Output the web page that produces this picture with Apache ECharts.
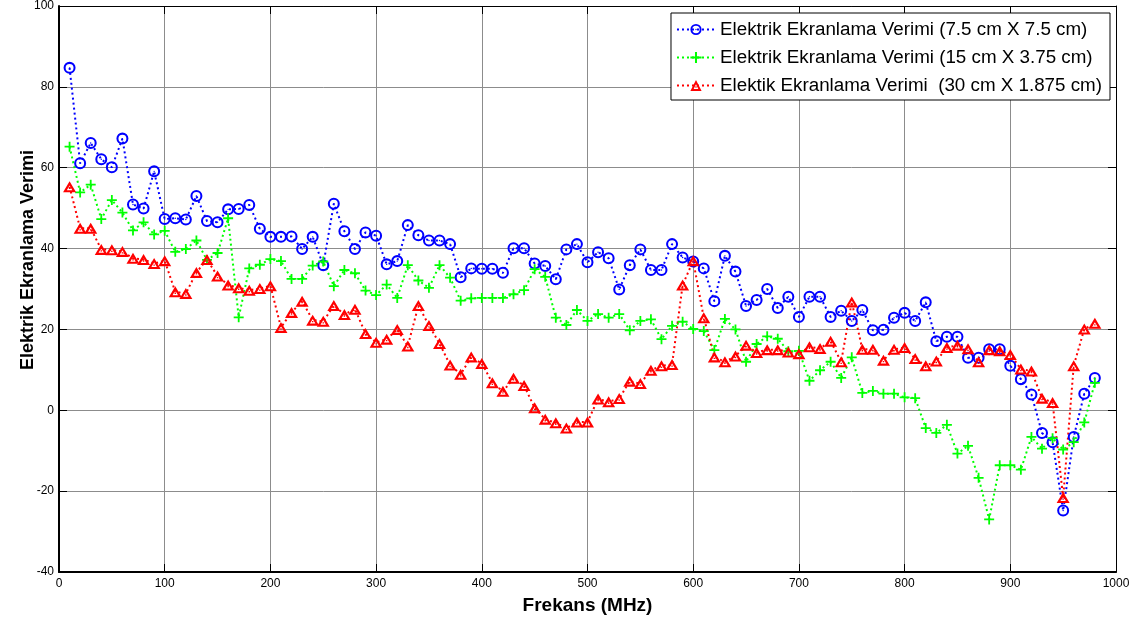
<!DOCTYPE html>
<html>
<head>
<meta charset="utf-8">
<script src="https://cdn.jsdelivr.net/npm/echarts@6/dist/echarts.min.js"></script>
<style>
  html, body { margin: 0; padding: 0; background: #fff; }
  #chart { width: 1148px; height: 625px; }
</style>
</head>
<body>
<div id="chart"></div>
<script>
// Frequency points (MHz)
const freqs = [10, 20, 30, 40, 50, 60, 70, 80, 90, 100,
  110, 120, 130, 140, 150, 160, 170, 180, 190, 200,
  210, 220, 230, 240, 250, 260, 270, 280, 290, 300,
  310, 320, 330, 340, 350, 360, 370, 380, 390, 400,
  410, 420, 430, 440, 450, 460, 470, 480, 490, 500,
  510, 520, 530, 540, 550, 560, 570, 580, 590, 600,
  610, 620, 630, 640, 650, 660, 670, 680, 690, 700,
  710, 720, 730, 740, 750, 760, 770, 780, 790, 800,
  810, 820, 830, 840, 850, 860, 870, 880, 890, 900,
  910, 920, 930, 940, 950, 960, 970, 980];

// Electric shielding effectiveness, 7.5 cm x 7.5 cm aperture
const se75x75 = [84.7, 61.1, 66.1, 62.1, 60.1, 67.2, 50.9, 49.9, 59.1, 47.3,
  47.5, 47.2, 53.0, 46.8, 46.5, 49.7, 49.8, 50.8, 44.9, 42.9,
  42.9, 43.0, 39.9, 42.9, 35.9, 51.1, 44.3, 39.9, 44.0, 43.2,
  36.1, 36.9, 45.8, 43.3, 42.0, 42.0, 41.1, 32.9, 35.1, 35.0,
  35.0, 34.0, 40.1, 40.1, 36.3, 35.7, 32.4, 39.8, 41.1, 36.6,
  39.1, 37.6, 29.9, 35.9, 39.8, 34.7, 34.7, 41.1, 37.8, 36.8,
  35.1, 27.0, 38.2, 34.3, 25.8, 27.3, 30.0, 25.3, 28.1, 23.1,
  28.1, 28.1, 23.1, 24.6, 22.1, 24.8, 19.8, 19.9, 22.9, 24.1,
  22.1, 26.7, 17.1, 18.2, 18.2, 13.0, 13.0, 15.1, 15.1, 11.0,
  7.7, 3.9, -5.6, -7.9, -24.8, -6.6, 4.1, 8.0];

// Electric shielding effectiveness, 15 cm x 3.75 cm aperture
const se15x375 = [65.2, 53.9, 55.8, 47.3, 52.0, 48.9, 44.5, 46.5, 43.5, 44.4,
  39.2, 39.9, 42.0, 37.2, 38.9, 47.5, 23.0, 35.1, 36.0, 37.4,
  36.9, 32.5, 32.5, 35.8, 36.8, 30.7, 34.7, 33.9, 29.6, 28.5,
  31.1, 27.8, 35.9, 32.1, 30.3, 35.9, 32.8, 27.1, 27.7, 27.8,
  27.8, 27.8, 28.7, 29.7, 34.9, 33.0, 22.9, 21.1, 24.8, 22.1,
  23.8, 22.9, 23.8, 19.8, 22.1, 22.5, 17.6, 20.9, 21.9, 20.1,
  19.6, 14.9, 22.6, 20.0, 12.0, 16.4, 18.3, 17.7, 14.6, 14.7,
  7.3, 9.9, 12.0, 8.0, 13.1, 4.3, 4.8, 4.1, 4.1, 3.2,
  3.0, -4.4, -5.6, -3.6, -10.7, -8.8, -16.7, -27.0, -13.6, -13.6,
  -14.7, -6.6, -9.5, -6.9, -9.7, -7.9, -3.0, 6.8];

// Electric shielding effectiveness, 30 cm x 1.875 cm aperture
const se30x1875 = [55.3, 45.0, 45.0, 39.8, 39.7, 39.3, 37.6, 37.3, 36.3, 37.0,
  29.3, 28.9, 34.1, 37.3, 33.2, 31.0, 30.3, 29.7, 30.1, 30.8,
  20.5, 24.2, 27.0, 22.3, 22.0, 25.9, 23.7, 25.0, 19.0, 16.8,
  17.6, 20.0, 15.9, 25.9, 21.0, 16.5, 11.2, 8.9, 13.2, 11.6,
  6.8, 4.7, 7.9, 6.1, 0.6, -2.2, -3.1, -4.4, -2.9, -2.9,
  2.8, 2.1, 2.9, 7.2, 6.6, 9.9, 11.0, 11.3, 31.0, 37.0,
  22.9, 13.2, 12.0, 13.4, 16.1, 14.3, 15.0, 15.0, 14.4, 14.0,
  15.7, 15.3, 17.1, 12.0, 26.8, 15.1, 15.1, 12.4, 15.1, 15.5,
  12.8, 11.0, 12.2, 15.5, 16.1, 15.2, 12.0, 15.0, 14.7, 13.8,
  10.2, 9.7, 3.0, 1.9, -21.6, 11.0, 20.1, 21.5];

const seriesNames = [
  'Elektrik Ekranlama Verimi (7.5 cm X 7.5 cm)',
  'Elektrik Ekranlama Verimi (15 cm X 3.75 cm)',
  'Elektik Ekranlama Verimi  (30 cm X 1.875 cm)'
];

// Hollow markers with a centre dot (the dotted line shows through the hole)
const ringSymbol = 'path://M0,5A5,5 0 1,1 10,5A5,5 0 1,1 0,5Z' +
  'M1.7,5A3.3,3.3 0 1,0 8.3,5A3.3,3.3 0 1,0 1.7,5Z' +
  'M4.4,5A0.6,0.6 0 1,1 5.6,5A0.6,0.6 0 1,1 4.4,5Z';
const plusSymbol = 'path://M4.1,0H5.9V4.1H10V5.9H5.9V10H4.1V5.9H0V4.1H4.1Z';
const triSymbol = 'path://M5,0L10,9L0,9Z' +
  'M5,3.5L2.9,7.3L7.1,7.3Z' +
  'M4.45,5.2H5.55V6.3H4.45Z';

const pairs = vals => freqs.map((f, i) => [f, vals[i]]);

const FONT = '"Liberation Sans", Arial, Helvetica, sans-serif';
const tickFont = { color: '#000', fontSize: 12, fontFamily: FONT };

function makeSeries(name, vals, color, symbol, size) {
  return {
    name: name,
    type: 'line',
    data: pairs(vals),
    symbol: symbol,
    symbolSize: size,
    showSymbol: true,
    lineStyle: { color: color, width: 2, type: [2, 3] },
    itemStyle: { color: color, borderWidth: 0 },
    emphasis: { disabled: true },
    animation: false,
    z: 3
  };
}

const chart = echarts.init(document.getElementById('chart'), null, { renderer: 'canvas' });

chart.setOption({
  animation: false,
  backgroundColor: '#fff',
  grid: { left: 59, right: 32, top: 6, bottom: 53, containLabel: false, outerBoundsMode: 'none' },
  legend: {
    data: seriesNames,
    orient: 'vertical',
    right: 38,
    top: 13,
    itemWidth: 38,
    itemHeight: 14,
    itemGap: 9,
    padding: [7, 8, 5, 5],
    backgroundColor: '#fff',
    borderColor: '#000',
    borderWidth: 1,
    textStyle: { color: '#000', fontSize: 18.8, fontFamily: FONT },
    selectedMode: false
  },
  xAxis: [{
    type: 'value',
    min: 0, max: 1000, interval: 100,
    name: 'Frekans (MHz)',
    nameLocation: 'middle',
    nameGap: 24,
    nameTextStyle: { color: '#000', fontSize: 19, fontWeight: 'bold', fontFamily: FONT },
    axisLine: { show: true, onZero: false, lineStyle: { color: '#000', width: 2 } },
    axisTick: { show: true, inside: true, length: 8, lineStyle: { color: '#000', width: 1 } },
    axisLabel: Object.assign({ margin: 6, formatter: v => String(v) }, tickFont),
    splitLine: { show: true, lineStyle: { color: '#8c8c8c', width: 1 } }
  }, {
    type: 'value',
    position: 'top',
    min: 0, max: 1000, interval: 100,
    axisLine: { show: true, onZero: false, lineStyle: { color: '#000', width: 1 } },
    axisTick: { show: true, inside: true, length: 8, lineStyle: { color: '#000', width: 1 } },
    axisLabel: { show: false },
    splitLine: { show: false }
  }],
  yAxis: [{
    type: 'value',
    min: -40, max: 100, interval: 20,
    name: 'Elektrik Ekranlama Verimi',
    nameLocation: 'middle',
    nameGap: 22,
    nameMoveOverlap: false,
    nameTextStyle: {
      color: '#000', fontSize: 18, fontWeight: 'bold', fontFamily: FONT,
      padding: [0, 0, 0, 58]
    },
    axisLine: { show: true, onZero: false, lineStyle: { color: '#000', width: 2 } },
    axisTick: { show: true, inside: true, length: 8, lineStyle: { color: '#000', width: 1 } },
    axisLabel: Object.assign({ margin: 5 }, tickFont),
    splitLine: { show: true, lineStyle: { color: '#8c8c8c', width: 1 } }
  }, {
    type: 'value',
    position: 'right',
    min: -40, max: 100, interval: 20,
    axisLine: { show: true, onZero: false, lineStyle: { color: '#000', width: 1 } },
    axisTick: { show: true, inside: true, length: 8, lineStyle: { color: '#000', width: 1 } },
    axisLabel: { show: false },
    splitLine: { show: false }
  }],
  series: [
    makeSeries(seriesNames[0], se75x75, '#0000ff', ringSymbol, 12),
    makeSeries(seriesNames[1], se15x375, '#00ff00', plusSymbol, 10),
    makeSeries(seriesNames[2], se30x1875, '#ff0000', triSymbol, [13, 11])
  ]
});
</script>
</body>
</html>
